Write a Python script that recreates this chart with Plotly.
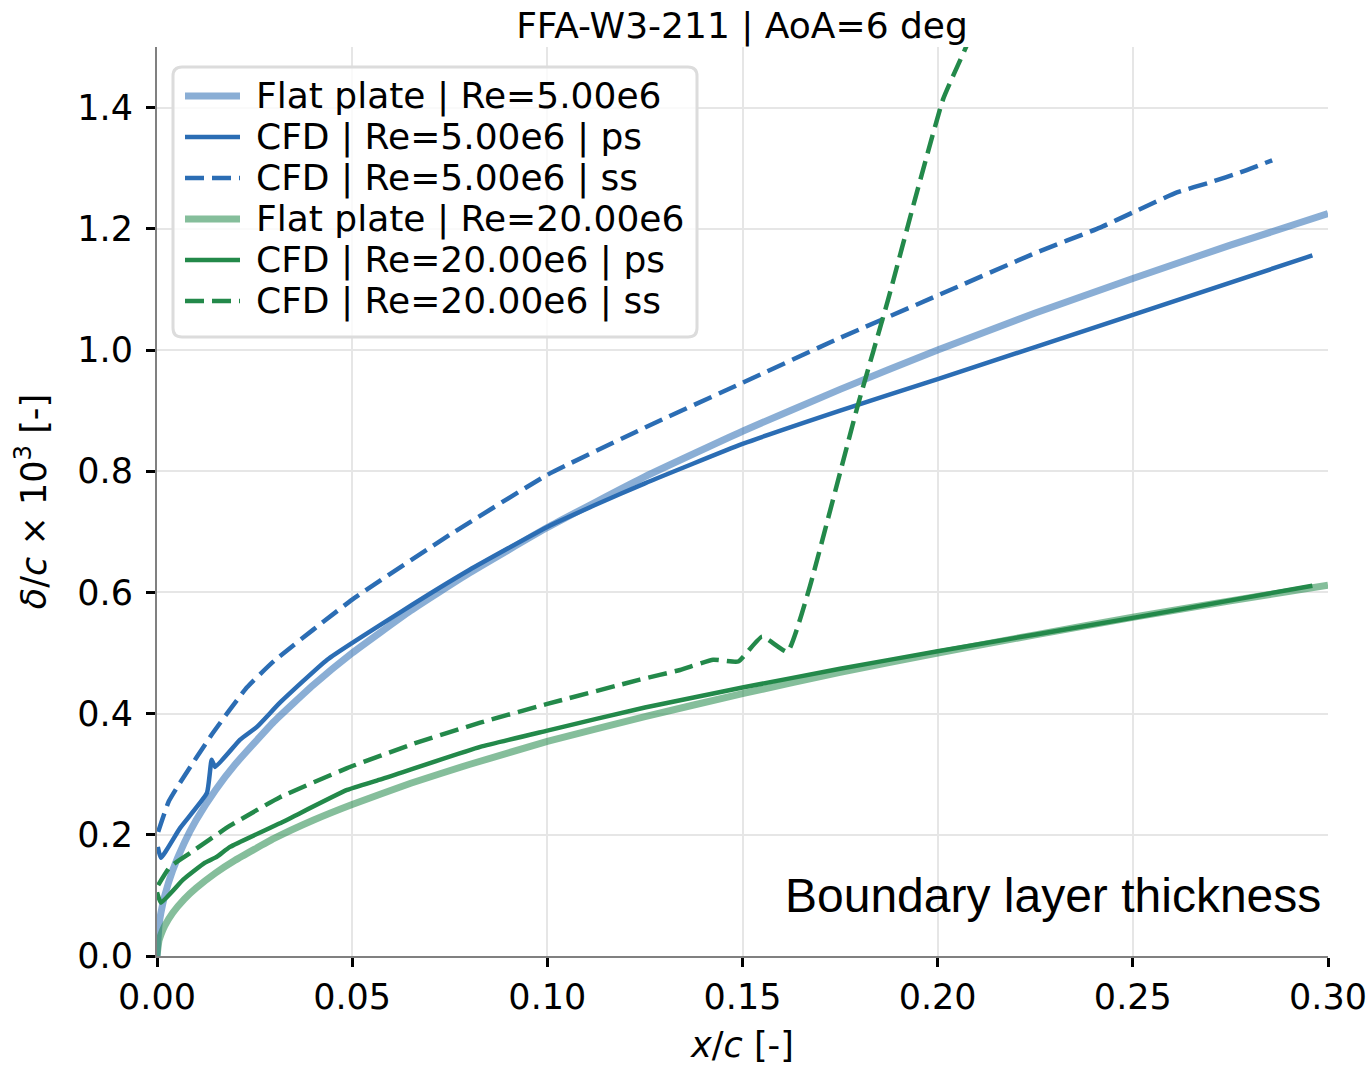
import plotly.graph_objects as go

# Flat-plate (Blasius) boundary layer thickness, delta/c x 1e3
fp_x = [0, 0.0005, 0.001, 0.002, 0.004, 0.007, 0.01, 0.015, 0.02, 0.03, 0.04, 0.05,
        0.065, 0.08, 0.1, 0.125, 0.15, 0.175, 0.2, 0.225, 0.25, 0.275, 0.3]
fp_re5 = [0, 0.050, 0.071, 0.100, 0.141, 0.187, 0.224, 0.274, 0.316, 0.387, 0.447, 0.500,
          0.570, 0.632, 0.707, 0.791, 0.866, 0.935, 1.000, 1.061, 1.118, 1.173, 1.225]
fp_re20 = [0, 0.025, 0.035, 0.050, 0.071, 0.094, 0.112, 0.137, 0.158, 0.194, 0.224, 0.250,
           0.285, 0.316, 0.354, 0.395, 0.433, 0.468, 0.500, 0.530, 0.559, 0.586, 0.612]

# CFD, Re = 5e6, pressure side
cfd5_ps_x = [0.0002, 0.001, 0.0059, 0.0128, 0.014, 0.0149, 0.0213, 0.0256, 0.0315, 0.0436,
             0.0625, 0.08, 0.1, 0.1125, 0.125, 0.15, 0.175, 0.2, 0.25, 0.296]
cfd5_ps_y = [0.180, 0.162, 0.211, 0.269, 0.324, 0.312, 0.357, 0.378, 0.418, 0.489,
             0.568, 0.637, 0.708, 0.745, 0.780, 0.845, 0.900, 0.952, 1.058, 1.156]

# CFD, Re = 5e6, suction side
cfd5_ss_x = [0.0003, 0.003, 0.0059, 0.0143, 0.023, 0.03, 0.05, 0.075, 0.1, 0.125, 0.15,
             0.175, 0.2, 0.225, 0.2416, 0.25, 0.2613, 0.27, 0.2775, 0.2857]
cfd5_ss_y = [0.205, 0.255, 0.286, 0.368, 0.443, 0.487, 0.588, 0.695, 0.794, 0.872, 0.946,
             1.020, 1.090, 1.160, 1.202, 1.227, 1.260, 1.277, 1.293, 1.313]

# CFD, Re = 20e6, pressure side
cfd20_ps_x = [0.0, 0.001, 0.0067, 0.0123, 0.0154, 0.0187, 0.0315, 0.0487, 0.0571, 0.0828,
              0.1, 0.125, 0.15, 0.175, 0.2, 0.25, 0.296]
cfd20_ps_y = [0.105, 0.088, 0.126, 0.154, 0.164, 0.180, 0.219, 0.274, 0.291, 0.345,
              0.372, 0.410, 0.443, 0.474, 0.503, 0.558, 0.611]

# CFD, Re = 20e6, suction side
cfd20_ss_x = [0.0003, 0.0033, 0.0085, 0.0187, 0.0315, 0.0487, 0.0656, 0.0828, 0.1, 0.1237,
              0.134, 0.1425, 0.1489, 0.155, 0.1615, 0.167, 0.1796, 0.1873, 0.1942, 0.2014,
              0.207, 0.212]
cfd20_ss_y = [0.117, 0.147, 0.170, 0.215, 0.262, 0.310, 0.350, 0.385, 0.416, 0.456,
              0.472, 0.489, 0.486, 0.527, 0.502, 0.604, 0.910, 1.083, 1.249, 1.414,
              1.496, 1.570]

x_ticks = [0.0, 0.05, 0.10, 0.15, 0.20, 0.25, 0.30]
y_ticks = [0.0, 0.2, 0.4, 0.6, 0.8, 1.0, 1.2, 1.4]

BLUE = "#2b6db4"
GREEN = "#23894a"
DASH = "19px,8px"
LW = 4.5
FP_LW = 7
FP_ALPHA = 0.55

# (name, x, y, colour, width, dash, opacity)
series = [
    ("Flat plate | Re=5.00e6", fp_x, fp_re5, BLUE, FP_LW, "solid", FP_ALPHA),
    ("CFD | Re=5.00e6 | ps", cfd5_ps_x, cfd5_ps_y, BLUE, LW, "solid", 1.0),
    ("CFD | Re=5.00e6 | ss", cfd5_ss_x, cfd5_ss_y, BLUE, LW, DASH, 1.0),
    ("Flat plate | Re=20.00e6", fp_x, fp_re20, GREEN, FP_LW, "solid", FP_ALPHA),
    ("CFD | Re=20.00e6 | ps", cfd20_ps_x, cfd20_ps_y, GREEN, LW, "solid", 1.0),
    ("CFD | Re=20.00e6 | ss", cfd20_ss_x, cfd20_ss_y, GREEN, LW, DASH, 1.0),
]

W, H = 1370, 1065
ML, MR, MT, MB = 157, 42, 47, 109
PW, PH = W - ML - MR, H - MT - MB


def px_x(p):
    return (p - ML) / PW


def px_y(p):
    return (H - MB - p) / PH


fig = go.Figure()
for name, xs, ys, col, w, dash, op in series:
    fig.add_trace(go.Scatter(x=xs, y=ys, mode="lines", name=name, showlegend=False,
                             line=dict(color=col, width=w, dash=dash, shape="spline",
                                       smoothing=0.4),
                             opacity=op))

# Legend panel drawn in paper space (rounded frame, sample lines, labels)
shapes = []
annotations = []
bx0, by0, bx1, by1, r = 173, 67, 697, 337, 9
rx, ry = r / PW, r / PH
X0, X1, Y0, Y1 = px_x(bx0), px_x(bx1), px_y(by1), px_y(by0)
frame = (f"M {X0 + rx},{Y0} L {X1 - rx},{Y0} Q {X1},{Y0} {X1},{Y0 + ry} "
         f"L {X1},{Y1 - ry} Q {X1},{Y1} {X1 - rx},{Y1} L {X0 + rx},{Y1} "
         f"Q {X0},{Y1} {X0},{Y1 - ry} L {X0},{Y0 + ry} Q {X0},{Y0} {X0 + rx},{Y0} Z")
shapes.append(dict(type="path", xref="paper", yref="paper", path=frame,
                   fillcolor="rgba(255,255,255,0.8)",
                   line=dict(color="#dcdcdc", width=3), layer="above"))
row0, row_step = 96, 41
for i, (name, xs, ys, col, w, dash, op) in enumerate(series):
    yc = px_y(row0 + i * row_step)
    shapes.append(dict(type="line", xref="paper", yref="paper",
                       x0=px_x(185), x1=px_x(240), y0=yc, y1=yc,
                       line=dict(color=col, width=w, dash=dash), opacity=op, layer="above"))
    annotations.append(dict(text=name, xref="paper", yref="paper", x=px_x(254), y=yc,
                            xanchor="left", yanchor="middle", showarrow=False,
                            font=dict(family="DejaVu Sans", size=36, color="black")))

annotations.append(dict(text="Boundary layer thickness", xref="paper", yref="paper",
                        x=px_x(1323), y=px_y(895), xanchor="right", yanchor="middle",
                        showarrow=False,
                        font=dict(family="Liberation Sans", size=48, color="black")))

TICKFONT = dict(family="DejaVu Sans", size=35, color="black")
LABELFONT = dict(family="DejaVu Sans", size=35, color="black")

fig.update_layout(
    width=W, height=H,
    margin=dict(l=ML, r=MR, t=MT, b=MB, autoexpand=False),
    paper_bgcolor="white", plot_bgcolor="white",
    showlegend=False,
    title=dict(text="FFA-W3-211 | AoA=6 deg", x=742 / W, xanchor="center",
               y=1 - 25 / H, yanchor="middle",
               font=dict(family="DejaVu Sans", size=36, color="black")),
    shapes=shapes,
    annotations=annotations,
)

fig.update_xaxes(
    range=[0, 0.3], tickvals=x_ticks, tickformat=".2f", automargin=False,
    showgrid=True, gridcolor="#e6e6e6", gridwidth=2,
    showline=True, linecolor="#808080", linewidth=2,
    ticks="outside", ticklen=9, tickwidth=2.5, tickcolor="black",
    tickfont=TICKFONT, zeroline=False,
    title=dict(text="<i>x</i>/<i>c</i> [-]", standoff=22, font=LABELFONT),
)
fig.update_yaxes(
    range=[0, 1.5], tickvals=y_ticks, tickformat=".1f", automargin=False,
    showgrid=True, gridcolor="#e6e6e6", gridwidth=2,
    showline=True, linecolor="#808080", linewidth=2,
    ticks="outside", ticklen=9, tickwidth=2.5, tickcolor="black",
    tickfont=TICKFONT, zeroline=False, ticklabelstandoff=6,
    title=dict(text="<i>δ</i>/<i>c</i> × 10<sup>3</sup> [-]", standoff=20, font=LABELFONT),
)

fig.write_html("out.html")
